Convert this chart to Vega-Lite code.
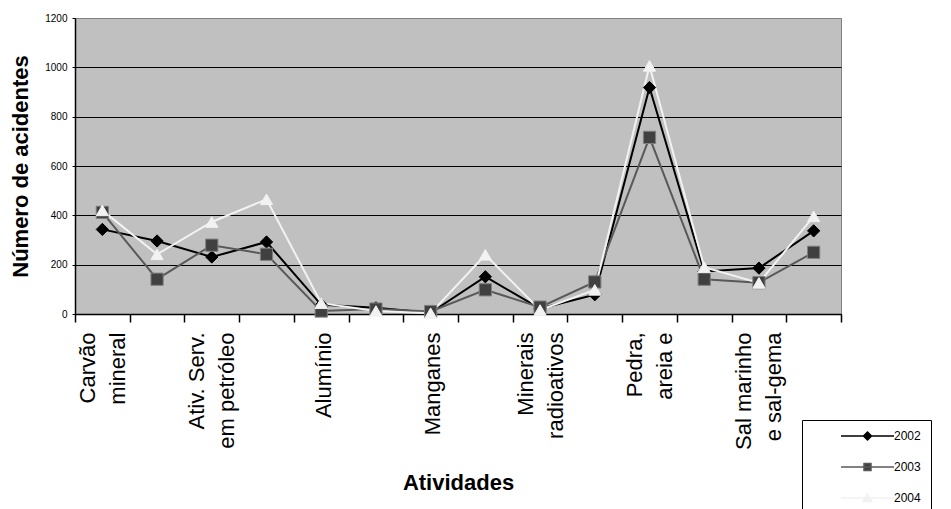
{
  "$schema": "https://vega.github.io/schema/vega-lite/v6.json",
  "width": 766,
  "height": 296,
  "autosize": {"type": "none"},
  "padding": {"left": 75, "top": 18, "right": 110, "bottom": 195},
  "background": "white",
  "config": {
    "font": "Liberation Sans",
    "view": {"fill": "#c0c0c0", "stroke": "#808080", "strokeWidth": 1}
  },
  "data": {
    "values": [
      {"atividade": "Carvão mineral", "ano": "2002", "acidentes": 343},
      {"atividade": "Carvão mineral", "ano": "2003", "acidentes": 412},
      {"atividade": "Carvão mineral", "ano": "2004", "acidentes": 420},
      {"atividade": "Petróleo e gás natural", "ano": "2002", "acidentes": 296},
      {"atividade": "Petróleo e gás natural", "ano": "2003", "acidentes": 141},
      {"atividade": "Petróleo e gás natural", "ano": "2004", "acidentes": 242},
      {"atividade": "Ativ. Serv. em petróleo", "ano": "2002", "acidentes": 231},
      {"atividade": "Ativ. Serv. em petróleo", "ano": "2003", "acidentes": 279},
      {"atividade": "Ativ. Serv. em petróleo", "ano": "2004", "acidentes": 373},
      {"atividade": "Minério de ferro", "ano": "2002", "acidentes": 292},
      {"atividade": "Minério de ferro", "ano": "2003", "acidentes": 242},
      {"atividade": "Minério de ferro", "ano": "2004", "acidentes": 465},
      {"atividade": "Alumínio", "ano": "2002", "acidentes": 37},
      {"atividade": "Alumínio", "ano": "2003", "acidentes": 12},
      {"atividade": "Alumínio", "ano": "2004", "acidentes": 44},
      {"atividade": "Estanho", "ano": "2002", "acidentes": 25},
      {"atividade": "Estanho", "ano": "2003", "acidentes": 20},
      {"atividade": "Estanho", "ano": "2004", "acidentes": 12},
      {"atividade": "Manganes", "ano": "2002", "acidentes": 5},
      {"atividade": "Manganes", "ano": "2003", "acidentes": 10},
      {"atividade": "Manganes", "ano": "2004", "acidentes": 3},
      {"atividade": "Metais preciosos", "ano": "2002", "acidentes": 151},
      {"atividade": "Metais preciosos", "ano": "2003", "acidentes": 98},
      {"atividade": "Metais preciosos", "ano": "2004", "acidentes": 240},
      {"atividade": "Minerais radioativos", "ano": "2002", "acidentes": 22},
      {"atividade": "Minerais radioativos", "ano": "2003", "acidentes": 28},
      {"atividade": "Minerais radioativos", "ano": "2004", "acidentes": 16},
      {"atividade": "Outros metálicos não-ferrosos", "ano": "2002", "acidentes": 78},
      {"atividade": "Outros metálicos não-ferrosos", "ano": "2003", "acidentes": 130},
      {"atividade": "Outros metálicos não-ferrosos", "ano": "2004", "acidentes": 98},
      {"atividade": "Pedra, areia e argila", "ano": "2002", "acidentes": 918},
      {"atividade": "Pedra, areia e argila", "ano": "2003", "acidentes": 716},
      {"atividade": "Pedra, areia e argila", "ano": "2004", "acidentes": 1006},
      {"atividade": "Minerais para adubos", "ano": "2002", "acidentes": 172},
      {"atividade": "Minerais para adubos", "ano": "2003", "acidentes": 141},
      {"atividade": "Minerais para adubos", "ano": "2004", "acidentes": 190},
      {"atividade": "Sal marinho e sal-gema", "ano": "2002", "acidentes": 186},
      {"atividade": "Sal marinho e sal-gema", "ano": "2003", "acidentes": 127},
      {"atividade": "Sal marinho e sal-gema", "ano": "2004", "acidentes": 126},
      {"atividade": "Outros não-metálicos", "ano": "2002", "acidentes": 337},
      {"atividade": "Outros não-metálicos", "ano": "2003", "acidentes": 250},
      {"atividade": "Outros não-metálicos", "ano": "2004", "acidentes": 396}
    ]
  },
  "encoding": {
    "x": {
      "field": "atividade",
      "type": "nominal",
      "sort": null,
      "scale": {"type": "band", "paddingInner": 0, "paddingOuter": 0},
      "axis": {
        "title": "Atividades",
        "titleFontSize": 22,
        "titleFontWeight": "bold",
        "titleColor": "black",
        "titlePadding": 23,
        "labelAngle": -90,
        "labelAlign": "right",
        "labelBaseline": "middle",
        "labelFontSize": 22,
        "labelLineHeight": 30,
        "labelPadding": 10,
        "labelOffset": {"condition": {"test": "datum.value === 'Alumínio' || datum.value === 'Manganes'", "value": 2}, "value": -15},
        "labelColor": "black",
        "labelOverlap": false,
        "labelLimit": 0,
        "labelExpr": "{'Carvão mineral': ['Carvão', 'mineral'], 'Ativ. Serv. em petróleo': ['Ativ. Serv.', 'em petróleo'], 'Alumínio': 'Alumínio', 'Manganes': 'Manganes', 'Minerais radioativos': ['Minerais', 'radioativos'], 'Pedra, areia e argila': ['Pedra,', 'areia e'], 'Sal marinho e sal-gema': ['Sal marinho', 'e sal-gema']}[datum.value] || ''",
        "tickBand": "extent",
        "tickSize": 8,
        "tickColor": "black",
        "tickWidth": 1.5,
        "domainColor": "black",
        "domainWidth": 1.5,
        "grid": false
      }
    },
    "y": {
      "field": "acidentes",
      "type": "quantitative",
      "scale": {"domain": [0, 1200], "nice": false},
      "axis": {
        "title": "Número de acidentes",
        "titleFontSize": 22,
        "titleFontWeight": "bold",
        "titleColor": "black",
        "titlePadding": 12,
        "values": [0, 200, 400, 600, 800, 1000, 1200],
        "format": "d",
        "labelFontSize": 10,
        "labelColor": "black",
        "labelPadding": 5,
        "tickSize": 3,
        "tickColor": "black",
        "domainColor": "black",
        "domainWidth": 1.5,
        "grid": true,
        "gridColor": {"condition": {"test": "datum.value === 1200", "value": "#808080"}, "value": "black"},
        "gridWidth": 1.2,
        "gridOpacity": 1
      }
    }
  },
  "resolve": {"scale": {"shape": "independent", "fill": "independent", "stroke": "independent"}},
  "layer": [
    {
      "mark": {"type": "line", "strokeWidth": 2},
      "encoding": {
        "color": {
          "field": "ano",
          "type": "nominal",
          "scale": {"domain": ["2002", "2003", "2004"], "range": ["#000000", "#595959", "#f2f2f2"]},
          "legend": null
        }
      }
    },
    {
      "mark": {"type": "point", "filled": true, "opacity": 1, "size": 150, "strokeWidth": 1},
      "encoding": {
        "shape": {
          "field": "ano",
          "type": "nominal",
          "scale": {"domain": ["2002", "2003", "2004"], "range": ["diamond", "square", "triangle-up"]},
          "legend": null
        },
        "stroke": {
          "field": "ano",
          "type": "nominal",
          "scale": {"domain": ["2002", "2003", "2004"], "range": ["#000000", "#808080", "#f2f2f2"]},
          "legend": null
        },
        "fill": {
          "field": "ano",
          "type": "nominal",
          "scale": {"domain": ["2002", "2003", "2004"], "range": ["#000000", "#404040", "#f2f2f2"]},
          "legend": null
        }
      }
    },
    {
      "transform": [{"filter": "false"}],
      "mark": {"type": "point", "filled": true, "opacity": 1, "strokeWidth": 1.5},
      "encoding": {
        "shape": {
          "field": "ano",
          "type": "nominal",
          "scale": {"domain": ["2002", "2003", "2004"], "range": ["M4.6,0H15.2M9.9,-0.8L10.7,0L9.9,0.8L9.1,0Z", "M4.6,0H15.2M9.2,-0.7H10.6V0.7H9.2Z", "M4.6,0H15.2M9.9,-0.8L10.8,0.7H9Z"]},
          "legend": {
            "orient": "none", "legendX": 727, "legendY": 402, "title": null, "direction": "vertical",
            "strokeColor": "black", "fillColor": "white", "padding": 10,
            "labelFontSize": 12, "labelColor": "black", "symbolSize": 100, "symbolStrokeWidth": 1.5,
            "labelOffset": 70, "rowPadding": 17
          }
        },
        "stroke": {
          "field": "ano",
          "type": "nominal",
          "scale": {"domain": ["2002", "2003", "2004"], "range": ["#000000", "#595959", "#f2f2f2"]},
          "legend": {
            "orient": "none", "legendX": 727, "legendY": 402, "title": null, "direction": "vertical",
            "strokeColor": "black", "fillColor": "white", "padding": 10,
            "labelFontSize": 12, "labelColor": "black", "symbolSize": 100, "symbolStrokeWidth": 1.5,
            "labelOffset": 70, "rowPadding": 17
          }
        },
        "fill": {
          "field": "ano",
          "type": "nominal",
          "scale": {"domain": ["2002", "2003", "2004"], "range": ["#000000", "#404040", "#f2f2f2"]},
          "legend": {
            "orient": "none", "legendX": 727, "legendY": 402, "title": null, "direction": "vertical",
            "strokeColor": "black", "fillColor": "white", "padding": 10,
            "labelFontSize": 12, "labelColor": "black", "symbolSize": 100, "symbolStrokeWidth": 1.5,
            "labelOffset": 70, "rowPadding": 17
          }
        }
      }
    }
  ]
}
